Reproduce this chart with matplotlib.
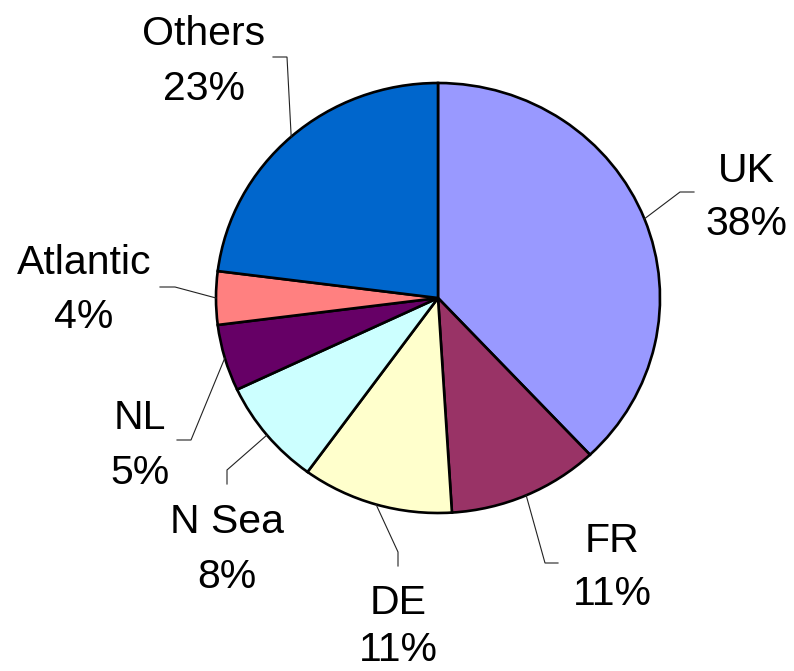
import matplotlib
matplotlib.use("Agg")
import matplotlib.pyplot as plt
import numpy as np

categories = ["UK", "FR", "DE", "N Sea", "NL", "Atlantic", "Others"]
values = [38, 11, 11, 8, 5, 4, 23]
colors = ["#9999FF", "#993366", "#FFFFCC", "#CCFFFF", "#660066", "#FF8080", "#0066CC"]

# layout (pixel positions): label centre x, name baseline y, pct baseline y, elbow, end
label_pos = {
    "UK": (746, 182, 235, (680, 192), (694, 192)),
    "FR": (612, 552, 605, (545, 563), (558, 563)),
    "DE": (398, 614, 661, (398, 552), (398, 566)),
    "N Sea": (227, 533, 588, (227, 470), (227, 484)),
    "NL": (140, 429, 484, (191, 440), (177, 440)),
    "Atlantic": (84, 274, 328, (175, 287), (160, 287)),
    "Others": (204, 45, 100, (287, 57), (273, 57)),
}

W, H = 794, 671
CX, CY, RX, RY = 438, 298, 222, 215

plt.rcParams['font.family'] = ['Liberation Sans', 'DejaVu Sans']
fig = plt.figure(figsize=(W / 100, H / 100), dpi=100)
ax = fig.add_axes([0, 0, 1, 1])
wedges, _ = ax.pie(values, colors=colors, startangle=90, counterclock=False,
                   wedgeprops=dict(edgecolor="black", linewidth=1.9))
ax.set_aspect('auto')
ax.set_xlim((0 - CX) / RX, (W - CX) / RX)
ax.set_ylim((CY - H) / RY, CY / RY)
ax.axis('off')


def px(x, y):
    return (x - CX) / RX, (CY - y) / RY


for w, cat, v in zip(wedges, categories, values):
    mid = np.deg2rad((w.theta1 + w.theta2) / 2)
    sx, sy = np.cos(mid), np.sin(mid)
    tx, ny, py, elbow, end = label_pos[cat]
    ex, ey = px(*elbow)
    nx2, ny2 = px(*end)
    ax.plot([sx, ex, nx2], [sy, ey, ny2], color="#222222", lw=0.8,
            solid_joinstyle='miter', clip_on=False)
    x0, y0 = px(tx, ny)
    ax.text(x0, y0, cat, ha='center', va='baseline', fontsize=29.5, color='black')
    x1, y1 = px(tx, py)
    ax.text(x1, y1, f"{v}%", ha='center', va='baseline', fontsize=29.5, color='black')

fig.savefig("out.png", dpi=100, facecolor="white")
